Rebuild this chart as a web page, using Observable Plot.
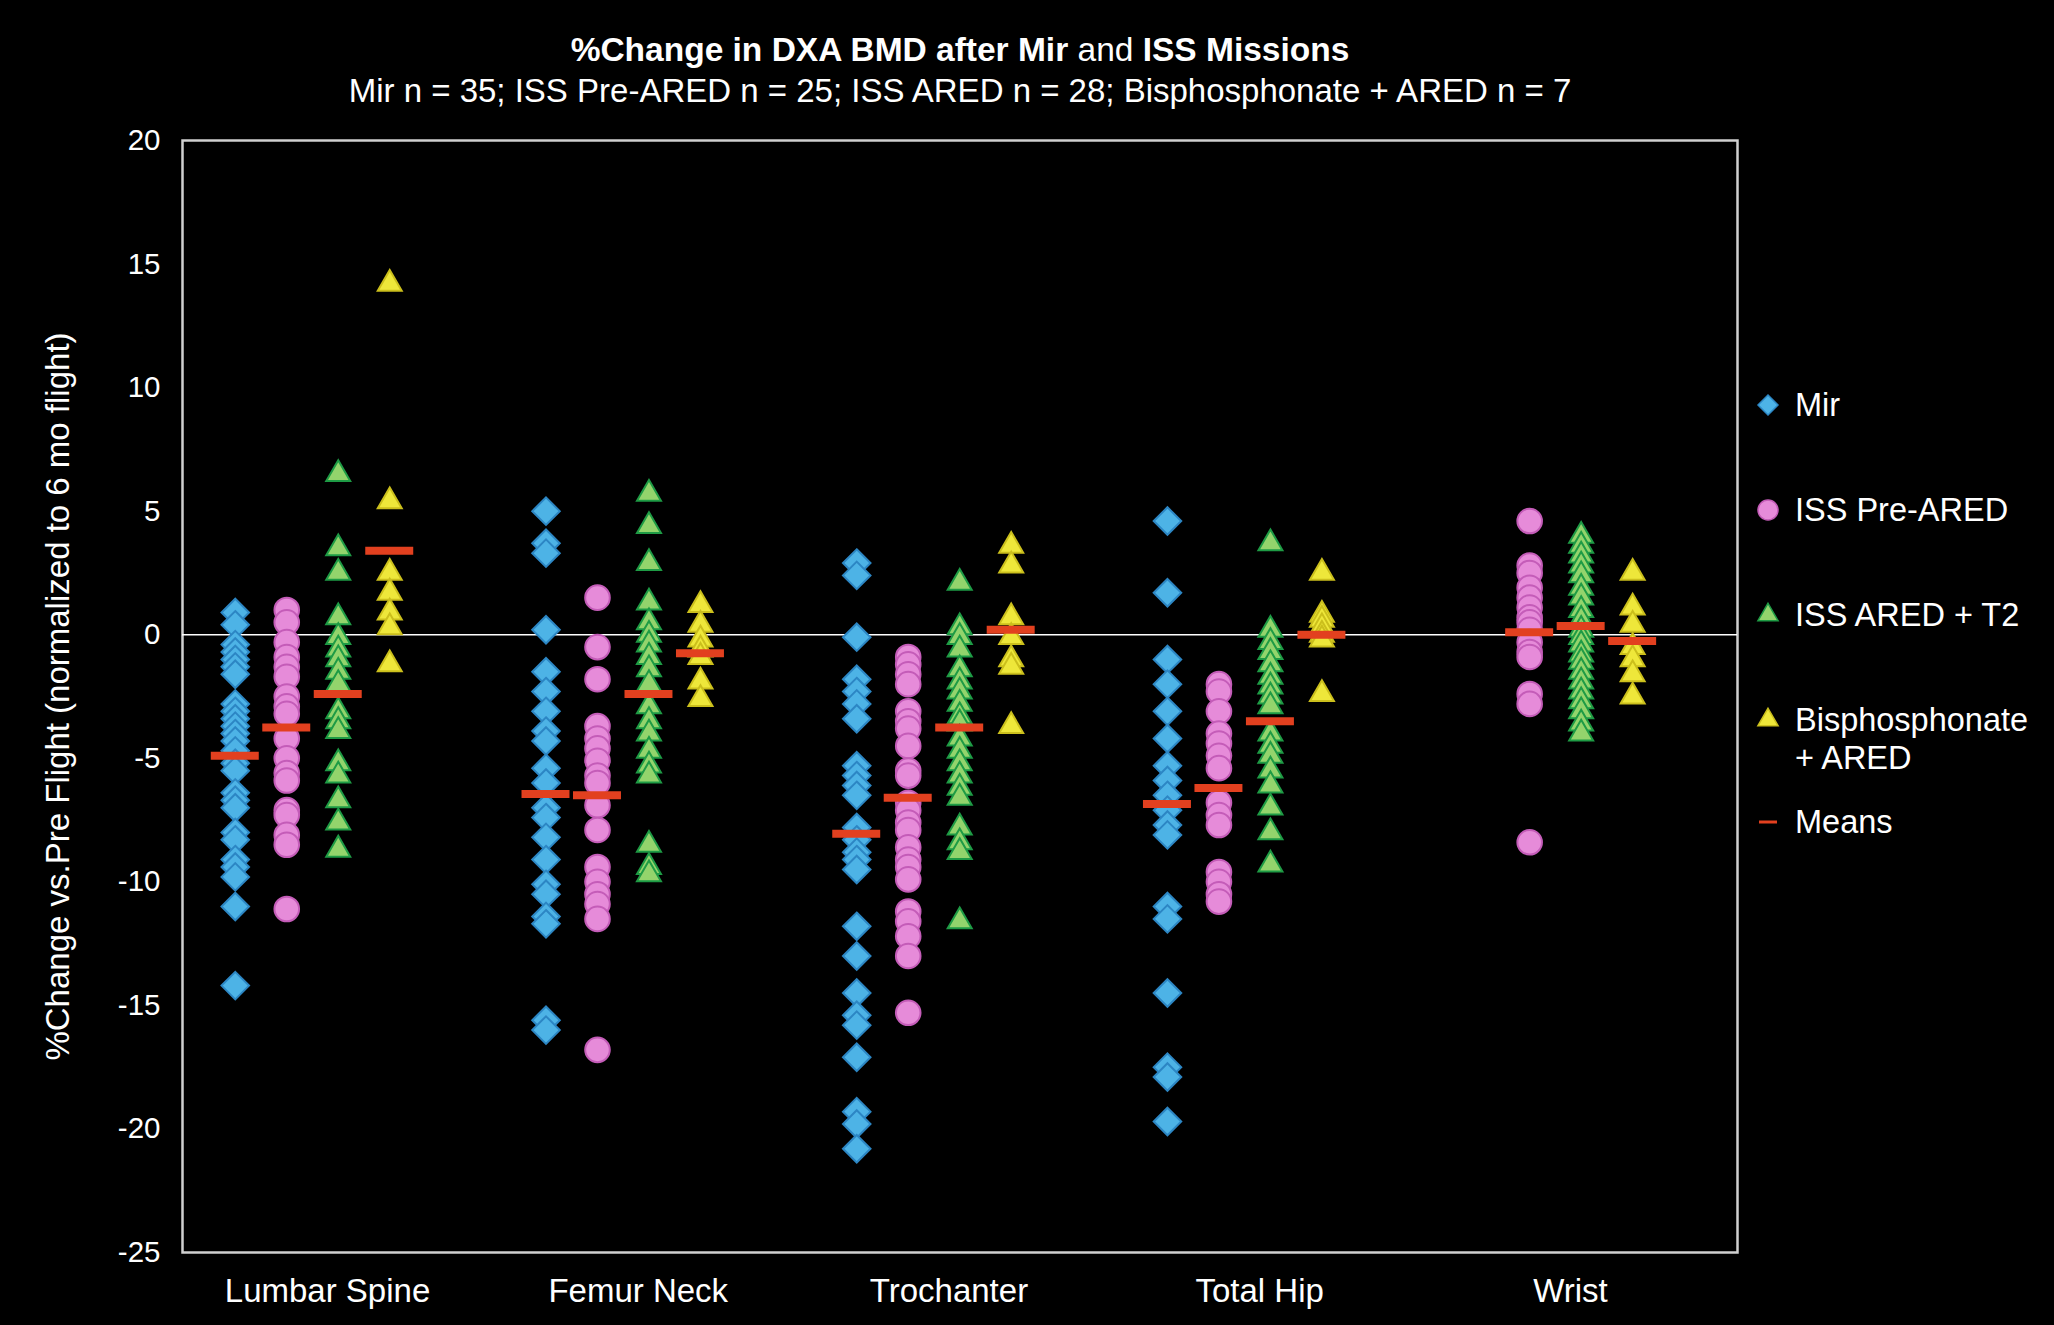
<!DOCTYPE html>
<html><head><meta charset="utf-8">
<script src="https://cdn.jsdelivr.net/npm/d3@7"></script>
<script src="https://cdn.jsdelivr.net/npm/@observablehq/plot@0.6"></script>
<style>
html,body{margin:0;padding:0;background:#000;}
body{width:2054px;height:1325px;overflow:hidden;font-family:"Liberation Sans",Arial,Helvetica,sans-serif;color:#fff;}
#wrap{position:relative;width:2054px;height:1325px;background:#000;}
#title{position:absolute;left:0;top:0;width:1920px;height:120px;text-align:center;}
#t1{position:absolute;left:0;right:0;top:30px;font-size:33.5px;line-height:40px;white-space:nowrap;}
#t1 b{font-weight:bold;}
#t2{position:absolute;left:0;right:0;top:71px;font-size:33px;line-height:40px;white-space:nowrap;}
#chart{position:absolute;left:0;top:120px;}
.li{position:absolute;left:1795px;font-size:32.5px;line-height:38px;white-space:nowrap;}
.ic{position:absolute;left:1754px;}
</style>
</head><body>
<div id="wrap">
  <div id="title">
    <div id="t1"><b>%Change in DXA BMD after Mir</b> and <b>ISS Missions</b></div>
    <div id="t2">Mir n = 35; ISS Pre-ARED n = 25; ISS ARED n = 28; Bisphosphonate + ARED n = 7</div>
  </div>
  <div id="chart"></div>
  <div id="legend"></div>
</div>
<script>
// ---- data ----
const sites = ["Lumbar Spine", "Femur Neck", "Trochanter", "Total Hip", "Wrist"];
const seriesNames = ["Mir", "ISS Pre-ARED", "ISS ARED + T2", "Bisphosphonate + ARED"];
const yTicks = [-25, -20, -15, -10, -5, 0, 5, 10, 15, 20];

// values per site (Lumbar Spine, Femur Neck, Trochanter, Total Hip, Wrist)
const mirValues = [
  [0.9, 0.4, -0.4, -0.7, -1.0, -1.3, -1.6, -2.8, -3.1, -3.4, -3.7, -4.0, -4.3, -4.7, -5.2, -5.5, -6.4, -6.7, -7.0, -8.0, -8.3, -9.1, -9.4, -9.8, -11.0, -14.2],
  [5.0, 3.7, 3.3, 0.2, -1.5, -2.3, -3.1, -3.9, -4.3, -5.4, -6.0, -7.0, -7.4, -8.2, -9.1, -10.1, -10.5, -11.4, -11.7, -15.6, -16.0],
  [2.9, 2.4, -0.1, -1.8, -2.3, -2.8, -3.4, -5.3, -5.7, -6.1, -6.5, -7.8, -8.3, -8.8, -9.1, -9.5, -11.8, -13.0, -14.5, -15.4, -15.8, -17.1, -19.3, -19.8, -20.8],
  [4.6, 1.7, -1.0, -2.0, -3.1, -4.2, -5.3, -5.9, -6.5, -7.1, -7.7, -8.1, -11.0, -11.5, -14.5, -17.5, -17.9, -19.7],
  []
];
const preAredValues = [
  [1.0, 0.5, -0.3, -0.9, -1.3, -1.7, -2.5, -2.9, -3.2, -4.2, -5.0, -5.6, -5.9, -7.1, -7.3, -8.1, -8.5, -11.1],
  [1.5, -0.5, -1.8, -3.7, -4.2, -4.6, -5.1, -5.7, -6.0, -6.9, -7.9, -9.4, -10.0, -10.5, -10.9, -11.5, -16.8],
  [-0.9, -1.2, -1.6, -2.0, -3.1, -3.5, -3.8, -4.5, -5.5, -5.7, -6.8, -7.1, -7.6, -7.9, -8.6, -9.1, -9.4, -9.9, -11.2, -11.6, -12.2, -13.0, -15.3],
  [-2.0, -2.3, -3.1, -4.0, -4.4, -4.9, -5.4, -6.8, -7.3, -7.7, -9.6, -10.0, -10.5, -10.8],
  [4.6, 2.8, 2.5, 1.9, 1.5, 1.1, 0.7, 0.5, 0.2, -0.3, -0.7, -0.9, -2.4, -2.8, -8.4]
];
const aredValues = [
  [6.5, 3.5, 2.5, 0.7, -0.1, -0.6, -1.0, -1.5, -2.0, -3.1, -3.5, -3.9, -5.2, -5.7, -6.7, -7.6, -8.7],
  [5.7, 4.4, 2.9, 1.3, 0.5, 0.0, -0.4, -0.9, -1.4, -2.0, -2.9, -3.5, -4.0, -4.7, -5.3, -5.7, -8.5, -9.4, -9.7],
  [2.1, 0.3, -0.1, -0.6, -1.4, -1.9, -2.3, -2.8, -3.3, -3.6, -4.2, -4.7, -5.2, -5.7, -6.2, -6.6, -7.8, -8.4, -8.8, -11.6],
  [3.7, 0.2, -0.3, -0.7, -1.2, -1.7, -2.1, -2.5, -2.9, -4.0, -4.5, -4.9, -5.5, -6.1, -7.0, -8.0, -9.3],
  [4.0, 3.6, 3.2, 2.8, 2.4, 1.9, 1.5, 1.0, 0.6, 0.2, -0.1, -0.4, -0.8, -1.1, -1.5, -1.9, -2.3, -2.7, -3.1, -3.6, -4.0]
];
const bisAredValues = [
  [14.2, 5.4, 2.5, 1.7, 0.9, 0.3, -1.2],
  [1.2, 0.4, -0.2, -0.6, -0.9, -1.9, -2.6],
  [3.6, 2.8, 0.7, -0.1, -1.0, -1.3, -3.7],
  [2.5, 0.8, 0.6, 0.3, 0.0, -0.2, -2.4],
  [2.5, 1.1, 0.4, -0.5, -1.0, -1.6, -2.5]
];
// means per site, per series
const mirMeans = [-4.9, -6.45, -8.05, -6.85, null];
const preAredMeans = [-3.75, -6.5, -6.6, -6.2, 0.1];
const aredMeans = [-2.4, -2.4, -3.75, -3.5, 0.35];
const bisAredMeans = [3.4, -0.75, 0.2, 0.0, -0.25];

// ---- build tables ----
const allValues = [mirValues, preAredValues, aredValues, bisAredValues];
const allMeans = [mirMeans, preAredMeans, aredMeans, bisAredMeans];
const rows = [];
allValues.forEach((bySite, j) => bySite.forEach((vals, i) => vals.forEach(v => rows.push({site: i, series: j, value: v}))));
const meanRows = [];
allMeans.forEach((bySite, j) => bySite.forEach((m, i) => { if (m !== null) meanRows.push({site: i, series: j, value: m}); }));

const slot = 0.1657;      // spacing between series inside a site group (x units)
const halfMean = 0.0772;  // half width of mean bar (x units)
const pos = d => d.site + (d.series - 1.5) * slot;

const styles = [
  {symbol: "diamond2", r: 12.4, fill: "#4DB3E6", stroke: "#2C86C4"},
  {symbol: "circle", r: 12.3, fill: "#E68BD9", stroke: "#C45CB8"},
  {symbol: "triangle", r: 8.9, fill: "#93D46C", stroke: "#1E9B45"},
  {symbol: "triangle", r: 8.9, fill: "#EEE73A", stroke: "#CBBF1C"}
];
const meanColor = "#E2401F";

const dotMarks = styles.map((s, j) => Plot.dot(rows.filter(d => d.series === j), {
  x: pos, y: "value", symbol: s.symbol, r: s.r, fill: s.fill, stroke: s.stroke, strokeWidth: 2
}));

const chart = Plot.plot({
  width: 2054, height: 1205,
  marginTop: 20, marginBottom: 73, marginLeft: 182, marginRight: 317,
  style: {background: "#000", color: "#fff", fontFamily: "'Liberation Sans', Arial, sans-serif", overflow: "visible"},
  x: {type: "linear", domain: [-0.4184, 4.586]},
  y: {domain: [-25, 20]},
  marks: [
    Plot.frame({stroke: "#d0d0d0", strokeWidth: 2.5}),
    Plot.ruleY([0], {stroke: "#ffffff", strokeWidth: 1.6}),
    ...dotMarks,
    Plot.ruleY(meanRows, {y: "value", x1: d => pos(d) - halfMean, x2: d => pos(d) + halfMean, stroke: meanColor, strokeWidth: 8}),
    Plot.axisY(yTicks, {tickSize: 0, tickPadding: 22, fontSize: 29.5, tickFormat: d => String(d), label: null}),
    Plot.axisY([], {tickSize: 0, fontSize: 33,
      label: "%Change vs.Pre Flight (normalized to 6 mo flight)", labelAnchor: "center", labelOffset: 137, labelArrow: "none"}),
    Plot.axisX(sites.map((s, i) => i), {tickSize: 0, tickPadding: 26, fontSize: 33, tickFormat: i => sites[i], dx: 15, label: null})
  ]
});
document.getElementById("chart").appendChild(chart);

// ---- legend ----
const legend = document.getElementById("legend");
const legendItems = [
  {text: "Mir", cy: 405, style: styles[0], kind: "dot", r: 9},
  {text: "ISS Pre-ARED", cy: 510, style: styles[1], kind: "dot", r: 10},
  {text: "ISS ARED + T2", cy: 615, style: styles[2], kind: "dot", r: 7.5},
  {text: "Bisphosphonate<br>+ ARED", cy: 720, style: styles[3], kind: "dot", r: 7.5},
  {text: "Means", cy: 822, kind: "mean"}
];
legendItems.forEach(it => {
  const ns = "http://www.w3.org/2000/svg";
  const svg = document.createElementNS(ns, "svg");
  svg.setAttribute("width", 28); svg.setAttribute("height", 28);
  svg.setAttribute("class", "ic");
  svg.style.top = (it.cy - 14) + "px";
  if (it.kind === "dot") {
    const p = document.createElementNS(ns, "path");
    const symMap = {diamond2: d3.symbolDiamond2, circle: d3.symbolCircle, triangle: d3.symbolTriangle};
    p.setAttribute("d", d3.symbol(symMap[it.style.symbol], it.r * it.r * Math.PI)());
    p.setAttribute("transform", "translate(14,14)");
    p.setAttribute("fill", it.style.fill);
    p.setAttribute("stroke", it.style.stroke);
    p.setAttribute("stroke-width", 1.5);
    svg.appendChild(p);
  } else {
    const l = document.createElementNS(ns, "line");
    l.setAttribute("x1", 5); l.setAttribute("x2", 23); l.setAttribute("y1", 14); l.setAttribute("y2", 14);
    l.setAttribute("stroke", meanColor); l.setAttribute("stroke-width", 3);
    svg.appendChild(l);
  }
  legend.appendChild(svg);
  const t = document.createElement("div");
  t.className = "li";
  t.innerHTML = it.text;
  t.style.top = (it.cy - 19) + "px";
  legend.appendChild(t);
});
</script>
</body></html>
